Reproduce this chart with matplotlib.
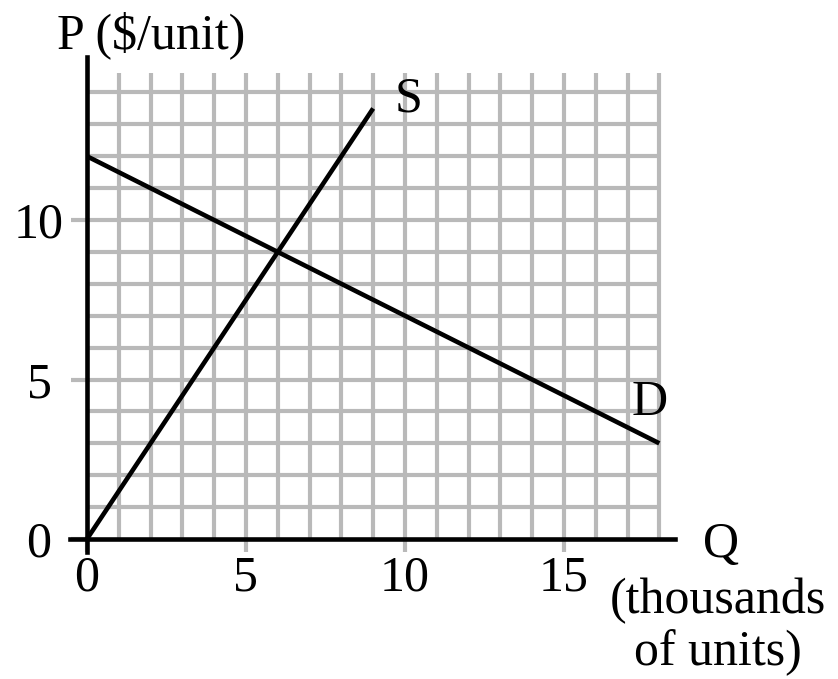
import numpy as np
import matplotlib
matplotlib.use("Agg")
import matplotlib.pyplot as plt

plt.rcParams['font.family'] = ['Liberation Serif', 'DejaVu Serif']

# supply and demand (Q in thousands of units, P in $/unit)
supply_q = [0, 9]
supply_p = [0, 13.5]
demand_q = [0, 18]
demand_p = [12, 3]

x_ticks = [0, 5, 10, 15]
y_ticks = [0, 5, 10]
grid_q = np.arange(1, 19)
grid_p = np.arange(1, 15)

gray = '#b9b9b9'
lw = 3.3
glw = 3.0
fs = 36

fig = plt.figure(figsize=(8.38, 6.79), dpi=100)
ax = fig.add_axes([0, 0, 1, 1])
ax.set_xlim(-2.736, 23.62)
ax.set_ylim(-4.39, 16.90)

# grid
ax.vlines(grid_q, 0, 14.6, color=gray, lw=glw, zorder=1)
ax.hlines(grid_p, 0, 18, color=gray, lw=glw, zorder=1)

# curves
ax.plot(supply_q, supply_p, color='black', lw=lw, solid_capstyle='butt', zorder=3)
ax.plot(demand_q, demand_p, color='black', lw=lw, solid_capstyle='butt', zorder=3)

# axes
for s in ['top', 'right']:
    ax.spines[s].set_visible(False)
ax.spines['left'].set_position(('data', 0))
ax.spines['bottom'].set_position(('data', 0))
ax.spines['left'].set_bounds(-0.42, 15.1)
ax.spines['bottom'].set_bounds(-0.53, 18.5)
for s in ['left', 'bottom']:
    ax.spines[s].set_linewidth(lw)
    ax.spines[s].set_zorder(4)

ax.set_xticks(x_ticks)
ax.set_yticks(y_ticks)
ax.set_xticklabels([str(v) for v in x_ticks], fontsize=fs)
ax.set_yticklabels([str(v) for v in y_ticks], fontsize=fs, ha='center')
ax.tick_params(axis='x', length=9.4, width=glw, color=gray, pad=2)
ax.tick_params(axis='y', length=11.5, width=glw, color=gray, pad=23)
ax.get_yticklines()[0].set_color('black')
ax.get_xticklines()[0].set_color('black')

# labels
ax.text(-0.94, 15.39, 'P ($/unit)', fontsize=fs, ha='left', va='baseline')
ax.text(9.69, 13.39, 'S', fontsize=fs, ha='left', va='baseline')
ax.text(17.14, 3.89, 'D', fontsize=fs, ha='left', va='baseline')
ax.text(19.37, -0.56, 'Q', fontsize=fs, ha='left', va='baseline')
ax.text(19.84, -2.32, '(thousands', fontsize=fs, ha='center', va='baseline')
ax.text(19.84, -3.95, 'of units)', fontsize=fs, ha='center', va='baseline')

fig.savefig('out.png', dpi=100)
